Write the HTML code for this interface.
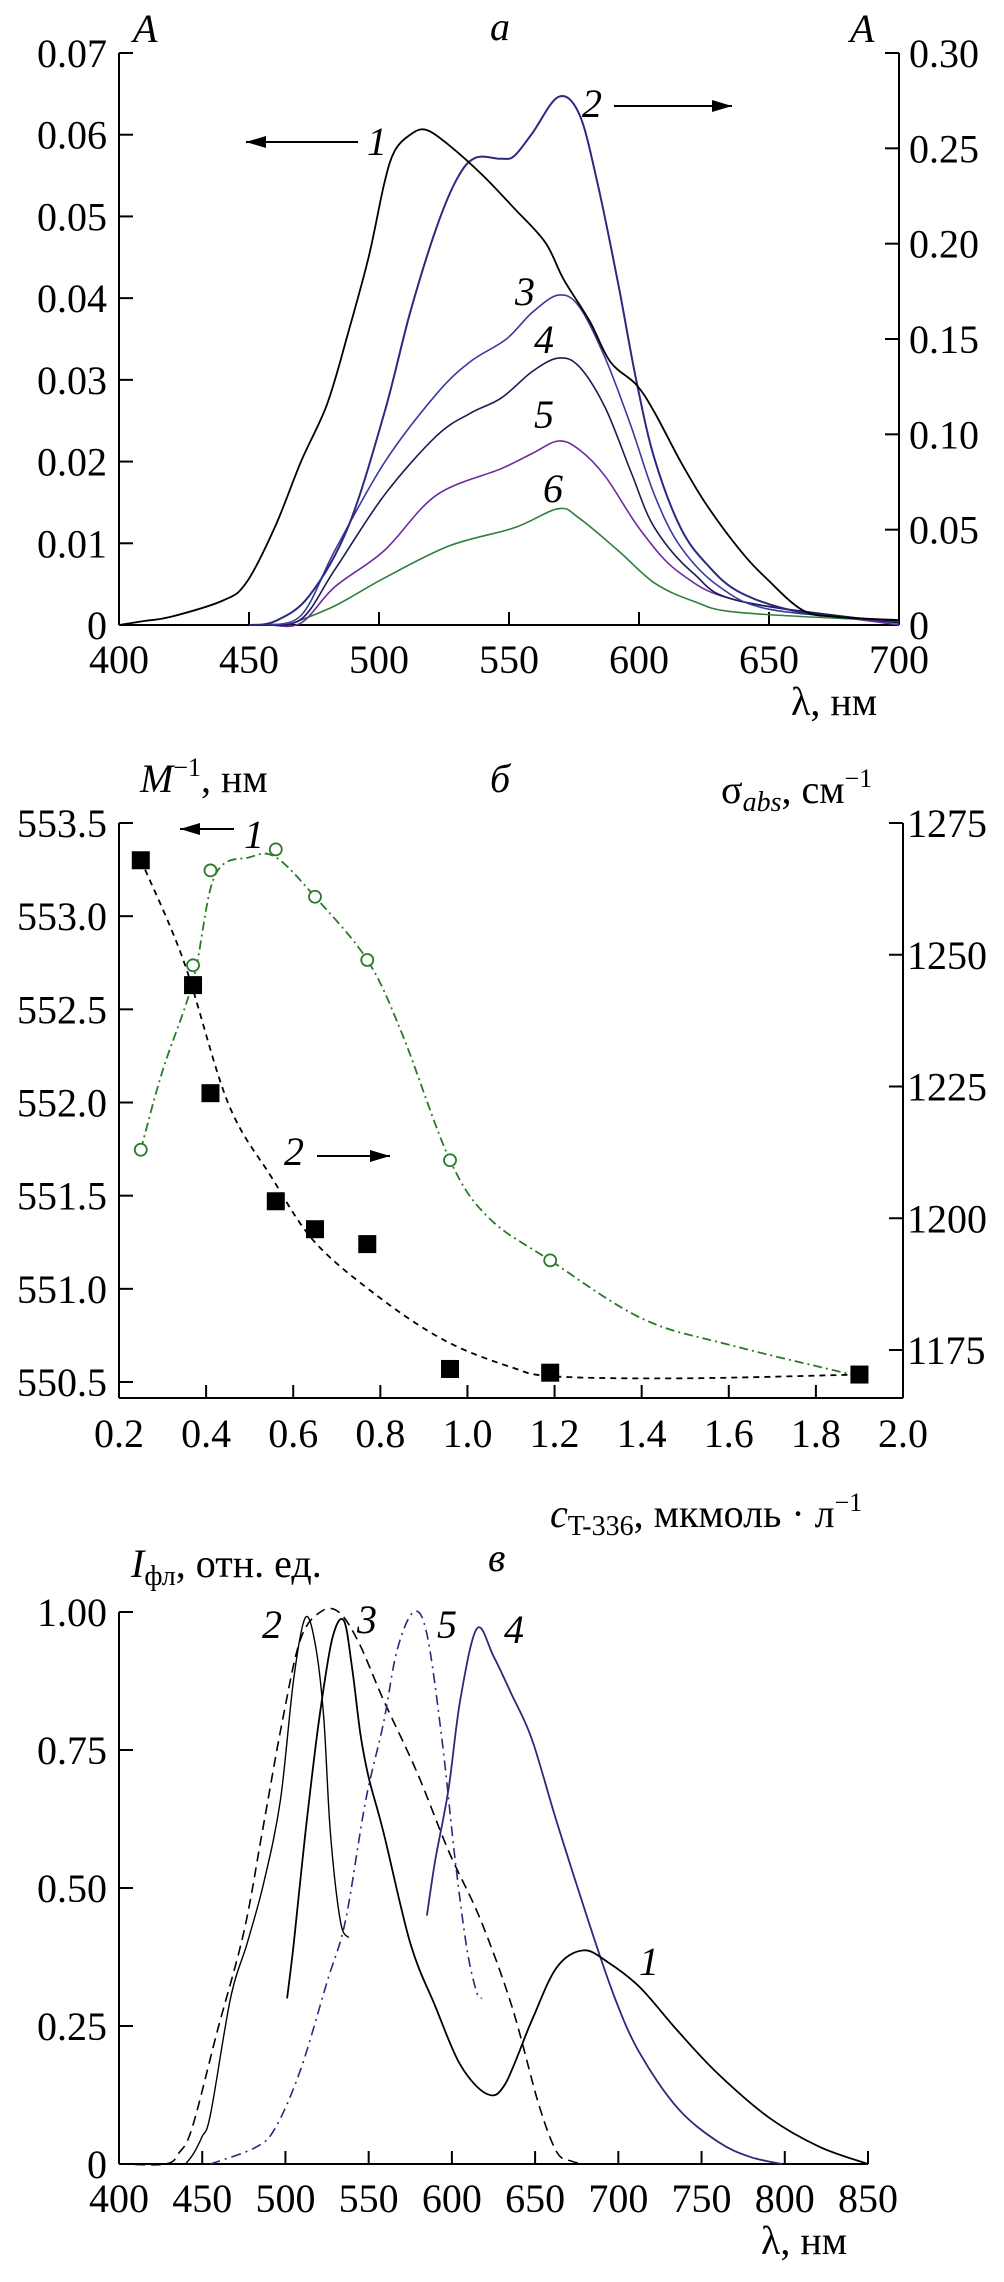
<!DOCTYPE html>
<html><head><meta charset="utf-8">
<style>
html,body{margin:0;padding:0;background:#fff;}
svg{display:block;}
text{font-family:"Liberation Serif","DejaVu Serif",serif;fill:#000;}
.it{font-style:italic;}
</style></head>
<body>
<svg id="fig" width="1004" height="2282" viewBox="0 0 1004 2282" xmlns="http://www.w3.org/2000/svg">
  <!-- Panel a text -->
  <text x="133" y="42" font-size="40" class="it">A</text>
  <text x="490" y="40" font-size="40" class="it">а</text>
  <text x="850" y="42" font-size="40" class="it">A</text>
  <text x="791" y="715" font-size="40">λ, нм</text>
  <!-- Panel b text -->
  <text x="140" y="792" font-size="40"><tspan class="it">M</tspan><tspan font-size="26" dy="-16">−1</tspan><tspan dy="16">, нм</tspan></text>
  <text x="490" y="792" font-size="40" class="it">б</text>
  <text x="721" y="803" font-size="40">σ<tspan class="it" font-size="28" dy="8">abs</tspan><tspan dy="-8">, см</tspan><tspan font-size="26" dy="-16">−1</tspan></text>
  <text x="550" y="1527" font-size="40"><tspan class="it">c</tspan><tspan font-size="28" dy="8">T-336</tspan><tspan dy="-8">, мкмоль · л</tspan><tspan font-size="26" dy="-16">−1</tspan></text>
  <!-- Panel c text -->
  <text x="131" y="1577" font-size="40"><tspan class="it">I</tspan><tspan font-size="28" dy="8">фл</tspan><tspan dy="-8">, отн. ед.</tspan></text>
  <text x="488" y="1571" font-size="40" class="it">в</text>
  <text x="761" y="2254" font-size="40">λ, нм</text>
  <g id="plots"></g>
</svg>
<script>
// ===== Panel a data =====
const aXTicks = [400,450,500,550,600,650,700];
const aLeftTicks = [0,0.01,0.02,0.03,0.04,0.05,0.06,0.07];
const aLeftTickLabels = ["0","0.01","0.02","0.03","0.04","0.05","0.06","0.07"];
const aRightTicks = [0,0.05,0.10,0.15,0.20,0.25,0.30];
const aRightTickLabels = ["0","0.05","0.10","0.15","0.20","0.25","0.30"];
const aLam1 = [400,410,420,440,449,460,470,480,488,496,502,506,512,518,527,540,552,564,571,581,589,599,606,616,626,639,649,663,676,700];
const aVal1 = [0,0.0005,0.001,0.003,0.0052,0.012,0.020,0.027,0.0356,0.045,0.054,0.058,0.060,0.0606,0.0587,0.055,0.051,0.0468,0.0423,0.0372,0.0322,0.0294,0.026,0.020,0.0147,0.0091,0.0057,0.0018,0.001,0.0006];
const aLam2 = [450,460,473,488,502,512,522,530,537,547,552,559,569,577,584,592,599,606,616,626,639,663,700];
const aVal2 = [0,0.002,0.015,0.051,0.111,0.164,0.208,0.234,0.245,0.2445,0.246,0.258,0.277,0.268,0.232,0.179,0.128,0.087,0.051,0.032,0.017,0.0065,0.002];
const aLam3 = [455,470,483,502,522,535,549,559,569,577,587,597,606,616,631,651,700];
const aVal3 = [0,0.005,0.039,0.085,0.121,0.138,0.150,0.164,0.173,0.167,0.140,0.104,0.068,0.041,0.020,0.008,0.002];
const aLam4 = [455,470,483,502,522,535,547,559,569,577,587,597,606,621,639,700];
const aVal4 = [0,0.003,0.029,0.068,0.099,0.111,0.119,0.133,0.140,0.1355,0.114,0.080,0.051,0.027,0.0125,0.001];
const aLam5 = [458,470,483,502,522,547,559,569,577,587,601,616,639,700];
const aVal5 = [0,0.001,0.020,0.039,0.068,0.082,0.090,0.0965,0.092,0.078,0.049,0.027,0.0125,0];
const aLam6 = [465,483,502,527,552,569,577,592,606,621,639,700];
const aVal6 = [0,0.010,0.0246,0.0415,0.051,0.061,0.056,0.039,0.022,0.0125,0.0065,0.002];

// ===== Panel b data =====
const bXTicks = [0.2,0.4,0.6,0.8,1.0,1.2,1.4,1.6,1.8,2.0];
const bXTickLabels = ["0.2","0.4","0.6","0.8","1.0","1.2","1.4","1.6","1.8","2.0"];
const bLeftTicks = [550.5,551.0,551.5,552.0,552.5,553.0,553.5];
const bLeftTickLabels = ["550.5","551.0","551.5","552.0","552.5","553.0","553.5"];
const bRightTicks = [1175,1200,1225,1250,1275];
const bRightTickLabels = ["1175","1200","1225","1250","1275"];
const bConc = [0.25,0.37,0.41,0.56,0.65,0.77,0.96,1.19,1.90];
const bLambdaM = [553.3,552.63,552.05,551.47,551.32,551.24,550.57,550.55,550.54];
const bSigma = [1213,1248,1266,1270,1261,1249,1211,1192,1170];
const bFit1X = [0.26,0.35,0.45,0.55,0.65,0.8,0.95,1.1,1.2,1.5,1.9];
const bFit1Y = [553.25,552.75,552.0,551.6,551.25,550.95,550.72,550.58,550.53,550.52,550.54];
const bFit2X = [0.25,0.3,0.37,0.42,0.5,0.56,0.65,0.77,0.85,0.96,1.05,1.19,1.4,1.6,1.9];
const bFit2Y = [1213,1228,1245,1265,1268.5,1268.5,1261,1249,1235,1211,1200,1192,1181,1176,1170];

// ===== Panel c data =====
const cXTicks = [400,450,500,550,600,650,700,750,800,850];
const cYTicks = [0,0.25,0.5,0.75,1.0];
const cYTickLabels = ["0","0.25","0.50","0.75","1.00"];
const cLam1 = [501,505,512,520,528,535,540,545,550,559,575,590,605,621,632,648,663,679,694,713,736,760,791,821,850];
const cVal1 = [0.30,0.40,0.60,0.80,0.95,0.985,0.90,0.78,0.70,0.60,0.40,0.286,0.18,0.127,0.145,0.26,0.356,0.387,0.365,0.32,0.24,0.163,0.083,0.031,0];
const cLam2 = [440,445,450,455,467,477,487,497,505,512,518,523,527,533,538];
const cVal2 = [0,0.02,0.05,0.09,0.30,0.40,0.51,0.66,0.88,0.99,0.94,0.81,0.60,0.44,0.41];
const cLam3 = [400,428,436,444,459,475,486,498,509,521,532,544,559,579,598,617,636,652,663,672,680];
const cVal3 = [0,0,0.02,0.066,0.24,0.42,0.60,0.80,0.95,1.0,1.0,0.945,0.84,0.71,0.567,0.444,0.286,0.11,0.022,0.005,0];
const cLam4 = [585,590,598,605,615,625,636,648,663,682,698,713,736,760,779,798];
const cVal4 = [0.45,0.55,0.68,0.84,0.97,0.92,0.85,0.77,0.62,0.44,0.30,0.20,0.10,0.04,0.013,0];
const cLam5 = [455,482,494,509,525,536,548,559,567,577,585,594,602,609,615,618];
const cVal5 = [0,0.03,0.066,0.17,0.33,0.44,0.655,0.80,0.93,1.0,0.96,0.77,0.55,0.39,0.31,0.30];

// ===== axis functions =====
const NS = "http://www.w3.org/2000/svg";
const root = document.getElementById('plots');
function mk(tag, attrs){
  const e = document.createElementNS(NS, tag);
  for (const k in attrs) e.setAttribute(k, attrs[k]);
  root.appendChild(e);
  return e;
}
function lin(d0,d1,p0,p1){ return v => p0 + (v-d0)*(p1-p0)/(d1-d0); }
function smoothPath(xs, ys){
  const n = xs.length;
  let d = "M" + xs[0].toFixed(1) + "," + ys[0].toFixed(1);
  for (let i=0;i<n-1;i++){
    const x0 = xs[Math.max(0,i-1)], y0 = ys[Math.max(0,i-1)];
    const x1 = xs[i], y1 = ys[i], x2 = xs[i+1], y2 = ys[i+1];
    const x3 = xs[Math.min(n-1,i+2)], y3 = ys[Math.min(n-1,i+2)];
    const c1x = x1 + (x2-x0)/6, c1y = y1 + (y2-y0)/6;
    const c2x = x2 - (x3-x1)/6, c2y = y2 - (y3-y1)/6;
    d += " C" + c1x.toFixed(1)+","+c1y.toFixed(1)+" "+c2x.toFixed(1)+","+c2y.toFixed(1)+" "+x2.toFixed(1)+","+y2.toFixed(1);
  }
  return d;
}
function curve(name, xs, ys, sx, sy, color, width, dash){
  const p = mk('path', {d: smoothPath(xs.map(sx), ys.map(sy)), fill:'none', stroke: color, 'stroke-width': width, 'stroke-dasharray': dash || 'none'});
  
  
  return p;
}
function seg(name, x1,y1,x2,y2, w){
  const l = mk('line', {x1:x1,y1:y1,x2:x2,y2:y2,stroke:'#000','stroke-width': w||2});
  
  
  return l;
}
function txt(name, x, y, s, anchor, italic){
  const t = mk('text', {x:x, y:y, 'font-size':40, 'text-anchor':anchor||'start'});
  if (italic) t.setAttribute('font-style','italic');
  t.textContent = s;
  
  
  return t;
}
function arrow(name, x1, x2, y){
  seg(name + '-shaft', x1, y, x2, y, 2);
  const dir = x2 > x1 ? 1 : -1;
  const h = mk('polygon', {points: x2+","+y+" "+(x2-dir*20)+","+(y-6)+" "+(x2-dir*20)+","+(y+6), fill:'#000'});
  
  
}

// ===== Panel a =====
(function(){
  const X0=119, X1=899, YB=625, YT=53;
  const sx = lin(400,700,X0,X1);
  const syL = lin(0,0.07,YB,YT);
  const syR = lin(0,0.30,YB,YT);
  seg('a-left-axis', X0, YT, X0, YB);
  seg('a-right-axis', X1, YT, X1, YB);
  seg('a-x-axis', X0, YB, X1, YB);
  aXTicks.forEach(v=>{ const x=sx(v); seg('a-x-tick', x, YB, x, YB-13); txt('a-x-tick-label', x, 673, String(v), 'middle'); });
  aLeftTicks.forEach((v,i)=>{ const y=syL(v); seg('a-left-tick', X0, y, X0+14, y); txt('a-left-tick-label', 107, y+14, aLeftTickLabels[i], 'end'); });
  aRightTicks.forEach((v,i)=>{ const y=syR(v); seg('a-right-tick', X1, y, X1-14, y); txt('a-right-tick-label', 909, y+14, aRightTickLabels[i], 'start'); });
  curve('a-curve-6', aLam6, aVal6, sx, syR, '#2f7f3a', 1.6);
  curve('a-curve-5', aLam5, aVal5, sx, syR, '#6a2aa0', 1.6);
  curve('a-curve-4', aLam4, aVal4, sx, syR, '#1c1c50', 1.6);
  curve('a-curve-3', aLam3, aVal3, sx, syR, '#3a3aa0', 1.6);
  curve('a-curve-2', aLam2, aVal2, sx, syR, '#2a2a80', 2);
  curve('a-curve-1', aLam1, aVal1, sx, syL, '#000', 1.8);
  txt('a-label-1', 377, 155, '1', 'middle', true);
  arrow('a-arrow-1', 358, 246, 142);
  txt('a-label-2', 592, 117, '2', 'middle', true);
  arrow('a-arrow-2', 614, 732, 106);
  txt('a-label-3', 525, 305, '3', 'middle', true);
  txt('a-label-4', 544, 353, '4', 'middle', true);
  txt('a-label-5', 544, 428, '5', 'middle', true);
  txt('a-label-6', 553, 502, '6', 'middle', true);
})();

// ===== Panel b =====
(function(){
  const X0=119, X1=903, YB=1398, YT=823;
  const sx = lin(0.2,2.0,X0,X1);
  const syL = lin(550.5,553.5,1382,823);
  const syR = lin(1175,1275,1350,823);
  seg('b-left-axis', X0, YT, X0, YB);
  seg('b-right-axis', X1, YT, X1, YB);
  seg('b-x-axis', X0, YB, X1, YB);
  bXTicks.forEach((v,i)=>{ const x=sx(v); seg('b-x-tick', x, YB, x, YB-13); txt('b-x-tick-label', x, 1447, bXTickLabels[i], 'middle'); });
  bLeftTicks.forEach((v,i)=>{ const y=syL(v); seg('b-left-tick', X0, y, X0+14, y); txt('b-left-tick-label', 107, y+14, bLeftTickLabels[i], 'end'); });
  bRightTicks.forEach((v,i)=>{ const y=syR(v); seg('b-right-tick', X1, y, X1-14, y); txt('b-right-tick-label', 907, y+14, bRightTickLabels[i], 'start'); });
  curve('b-fit-2', bFit2X, bFit2Y, sx, syR, '#2a7a2a', 1.8, '9,4,2,4');
  curve('b-fit-1', bFit1X, bFit1Y, sx, syL, '#000', 1.8, '6,5');
  bConc.forEach((c,i)=>{
    const ci = mk('circle', {cx: sx(c), cy: syR(bSigma[i]), r: 6, fill:'#fff', stroke:'#2a7a2a', 'stroke-width':1.8});
    
    
  });
  bConc.forEach((c,i)=>{
    const r = mk('rect', {x: sx(c)-9, y: syL(bLambdaM[i])-9, width: 18, height: 18, fill:'#000'});
    
    
  });
  txt('b-label-1', 254, 848, '1', 'middle', true);
  arrow('b-arrow-1', 234, 180, 829);
  txt('b-label-2', 294, 1165, '2', 'middle', true);
  arrow('b-arrow-2', 317, 390, 1156);
})();

// ===== Panel c =====
(function(){
  const X0=119, X1=868, YB=2164, YT=1612;
  const sx = lin(400,850,X0,X1);
  const sy = lin(0,1,YB,YT);
  seg('c-y-axis', X0, YT, X0, YB);
  seg('c-x-axis', X0, YB, X1, YB);
  cXTicks.forEach(v=>{ const x=sx(v); seg('c-x-tick', x, YB, x, YB-13); txt('c-x-tick-label', x, 2212, String(v), 'middle'); });
  cYTicks.forEach((v,i)=>{ const y=sy(v); seg('c-y-tick', X0, y, X0+14, y); txt('c-y-tick-label', 107, y+14, cYTickLabels[i], 'end'); });
  curve('c-curve-3', cLam3, cVal3, sx, sy, '#000', 1.6, '10,6');
  curve('c-curve-5', cLam5, cVal5, sx, sy, '#2a2a7a', 1.6, '10,5,2,5');
  curve('c-curve-2', cLam2, cVal2, sx, sy, '#000', 1.4);
  curve('c-curve-4', cLam4, cVal4, sx, sy, '#2a2a7a', 1.8);
  curve('c-curve-1', cLam1, cVal1, sx, sy, '#000', 1.8);
  txt('c-label-2', 272, 1638, '2', 'middle', true);
  txt('c-label-3', 367, 1633, '3', 'middle', true);
  txt('c-label-5', 447, 1638, '5', 'middle', true);
  txt('c-label-4', 514, 1643, '4', 'middle', true);
  txt('c-label-1', 649, 1975, '1', 'middle', true);
})();
</script>
</body></html>
